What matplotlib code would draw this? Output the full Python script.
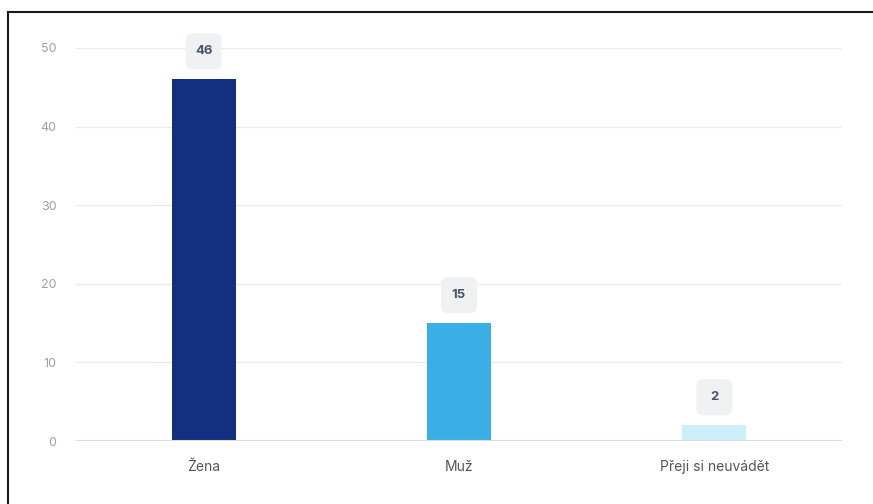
import matplotlib
matplotlib.use("Agg")
import matplotlib.pyplot as plt
from matplotlib.patches import FancyBboxPatch
from matplotlib.lines import Line2D
from matplotlib.transforms import ScaledTranslation

plt.rcParams['font.family'] = ['Inter', 'DejaVu Sans']

categories = ["Žena", "Muž", "Přeji si neuvádět"]
values = [46, 15, 2]
colors = ["#12307f", "#3aaee6", "#cdf0f8"]
yticks = [0, 10, 20, 30, 40, 50]

W, H = 873, 504
fig = plt.figure(figsize=(W / 100, H / 100), dpi=100)
ax = fig.add_axes([76 / W, (H - 441) / H, (842 - 76) / W, (441 - 48) / H])

x = list(range(len(categories)))
ax.bar(x, values, width=0.25, color=colors, zorder=3)

ax.set_xlim(-0.5, len(categories) - 0.5)
ax.set_ylim(0, 50)
ax.set_yticks(yticks)
ax.set_yticklabels([str(v) for v in yticks])
ax.set_xticks(x)
ax.set_xticklabels(categories)

ax.tick_params(axis='y', length=0, pad=14, labelsize=9, labelcolor="#a0a0a0")
ax.tick_params(axis='x', length=0, pad=14, labelsize=10, labelcolor="#555555")

for s in ax.spines.values():
    s.set_visible(False)
ax.grid(axis='y', color="#ececec", linewidth=1.0, zorder=0)
ax.set_axisbelow(True)
ax.axhline(0, color="#d9ddf0", linewidth=1.5, zorder=4)

# value labels in rounded boxes
for xi, v in zip(x, values):
    tr = fig.dpi_scale_trans + ScaledTranslation(xi, v, ax.transData)
    box = FancyBboxPatch((-0.18, 0.28 - 0.18), 0.36, 0.36,
                         boxstyle="round,pad=0,rounding_size=0.07",
                         facecolor="#eff1f2", edgecolor="none",
                         transform=tr, clip_on=False, zorder=5)
    ax.add_artist(box)
    ax.text(0, 0.28, str(v), transform=tr, ha='center', va='center',
            fontsize=9.5, fontweight='bold', color="#4a5568", zorder=6,
            clip_on=False)

# frame border (left and top visible)
fig.add_artist(Line2D([7.5 / W, 7.5 / W], [0, 1 - 11.5 / H], color="#1a1a1a",
                      linewidth=1.5, transform=fig.transFigure))
fig.add_artist(Line2D([7.5 / W, 1], [1 - 11.5 / H, 1 - 11.5 / H], color="#1a1a1a",
                      linewidth=1.5, transform=fig.transFigure))

fig.savefig("out.png", dpi=100)
